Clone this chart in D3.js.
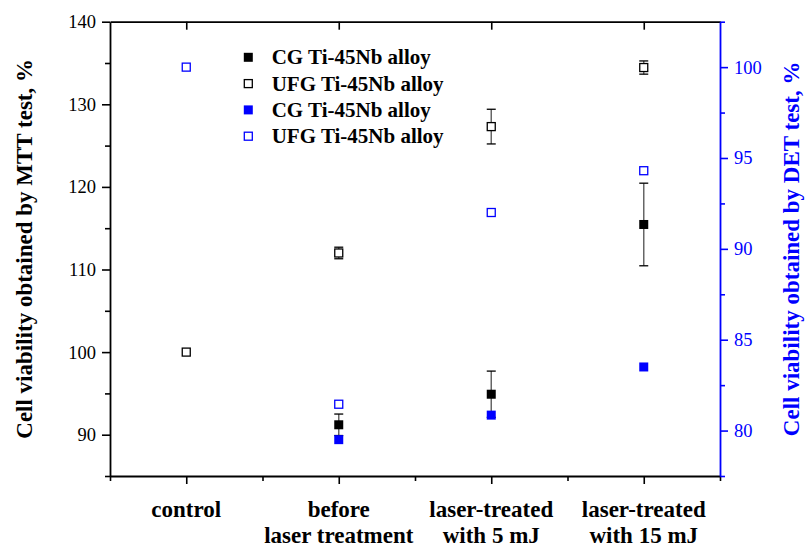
<!DOCTYPE html>
<html>
<head>
<meta charset="utf-8">
<script src="https://cdn.jsdelivr.net/npm/d3@7"></script>
<style>
  html, body { margin: 0; padding: 0; background: #fff; }
  svg { display: block; }
</style>
</head>
<body>
<div id="chart"></div>
<script>
// categories along the x axis (two lines each)
const categories = [
  ["control"],
  ["before", "laser treatment"],
  ["laser-treated", "with 5 mJ"],
  ["laser-treated", "with 15 mJ"]
];

// MTT test (left axis), null = no point
const cgMTT = [null, 91.2, 94.9, 115.45];
const cgMTTErr = [null, 1.3, 2.8, 5.0];
const ufgMTT = [100, 112.0, 127.3, 134.45];
const ufgMTTErr = [0, 0.7, 2.1, 0.8];

// DET test (right axis)
const cgDET = [null, 79.5, 80.85, 83.5];
const ufgDET = [100, 81.45, 92.0, 94.3];

const leftTicks = [90, 100, 110, 120, 130, 140];
const rightTicks = [80, 85, 90, 95, 100];
const legendLabels = ["CG Ti-45Nb alloy", "UFG Ti-45Nb alloy", "CG Ti-45Nb alloy", "UFG Ti-45Nb alloy"];

const width = 806, height = 549;
const plotL = 110, plotR = 720, plotT = 21.7, plotB = 476;
const blue = "#0000ff";
const serif = "'Liberation Serif', 'Times New Roman', serif";

const svg = d3.select("#chart").append("svg")
  .attr("width", width)
  .attr("height", height)
  .style("font-family", serif);

// scales
const x = d3.scaleLinear().domain([0.5, 4.5]).range([plotL, plotR]);
const yL = d3.scaleLinear().domain([85, 140]).range([plotB, plotT]);
const yR = d3.scaleLinear().domain([77.5, 102.5]).range([plotB, plotT]);

const idx = d3.range(1, categories.length + 1);

// minor ticks first, then major axes on top
svg.append("g")
  .attr("transform", `translate(0,${plotB})`)
  .call(d3.axisBottom(x).tickValues(d3.range(0.5, 4.6, 1)).tickSize(5).tickFormat(""))
  .call(g => g.select(".domain").remove())
  .call(g => g.selectAll("line").attr("stroke", "#000").attr("stroke-width", 1.6));

svg.append("g")
  .attr("transform", `translate(${plotL},0)`)
  .call(d3.axisLeft(yL).tickValues(d3.range(85, 140, 10)).tickSize(5).tickFormat(""))
  .call(g => g.select(".domain").remove())
  .call(g => g.selectAll("line").attr("stroke", "#000").attr("stroke-width", 1.6));

svg.append("g")
  .attr("transform", `translate(${plotR},0)`)
  .call(d3.axisRight(yR).tickValues(d3.range(77.5, 103, 5)).tickSize(5).tickFormat(""))
  .call(g => g.select(".domain").remove())
  .call(g => g.selectAll("line").attr("stroke", blue).attr("stroke-width", 1.6));

// top frame with inward ticks
svg.append("g")
  .attr("transform", `translate(0,${plotT})`)
  .call(d3.axisBottom(x).tickValues(idx).tickSizeInner(8).tickSizeOuter(0).tickFormat(""))
  .call(g => g.select(".domain").attr("stroke", "#000").attr("stroke-width", 1.8))
  .call(g => g.selectAll("line").attr("stroke", "#000").attr("stroke-width", 1.6));

// bottom axis
const xAxis = svg.append("g")
  .attr("transform", `translate(0,${plotB})`)
  .call(d3.axisBottom(x).tickValues(idx).tickSizeInner(8).tickSizeOuter(0).tickFormat(""));
xAxis.select(".domain").attr("stroke", "#000").attr("stroke-width", 1.8);
xAxis.selectAll("line").attr("stroke", "#000").attr("stroke-width", 1.6);

// category labels
const catText = svg.append("g").selectAll("text")
  .data(categories)
  .join("text")
  .attr("x", (d, i) => x(i + 1))
  .attr("y", 517)
  .attr("text-anchor", "middle")
  .attr("font-size", "23px")
  .attr("font-weight", "bold")
  .attr("fill", "#000");
catText.selectAll("tspan")
  .data(d => d)
  .join("tspan")
  .attr("x", function() { return this.parentNode.getAttribute("x"); })
  .attr("dy", (d, i) => i === 0 ? 0 : 26)
  .text(d => d);

// left axis
const yAxisL = svg.append("g")
  .attr("transform", `translate(${plotL},0)`)
  .call(d3.axisLeft(yL).tickValues(leftTicks).tickSizeInner(8).tickSizeOuter(0).tickPadding(6));
yAxisL.select(".domain").attr("stroke", "#000").attr("stroke-width", 1.8);
yAxisL.selectAll("line").attr("stroke", "#000").attr("stroke-width", 1.6);
yAxisL.selectAll("text")
  .attr("font-family", serif)
  .attr("font-size", "18.5px")
  .attr("fill", "#000");

// right axis
const yAxisR = svg.append("g")
  .attr("transform", `translate(${plotR},0)`)
  .call(d3.axisRight(yR).tickValues(rightTicks).tickSizeInner(8).tickSizeOuter(0).tickPadding(6));
yAxisR.select(".domain").attr("stroke", blue).attr("stroke-width", 1.8);
yAxisR.selectAll("line").attr("stroke", blue).attr("stroke-width", 1.6);
yAxisR.selectAll("text")
  .attr("font-family", serif)
  .attr("font-size", "18.5px")
  .attr("fill", blue);

// axis titles
svg.append("text")
  .attr("transform", `translate(32,${(plotT + plotB) / 2}) rotate(-90)`)
  .attr("text-anchor", "middle")
  .attr("font-size", "23px")
  .attr("font-weight", "bold")
  .attr("fill", "#000")
  .text("Cell viability obtained by MTT test, %");

svg.append("text")
  .attr("transform", `translate(799,${(plotT + plotB) / 2}) rotate(-90)`)
  .attr("text-anchor", "middle")
  .attr("font-size", "23px")
  .attr("font-weight", "bold")
  .attr("fill", blue)
  .text("Cell viability obtained by DET test, %");

// error bars
function errorBars(values, errs, scale) {
  const pts = values.map((v, i) => ({ i: i + 1, v, e: errs[i] }))
    .filter(d => d.v != null && d.e > 0);
  const g = svg.append("g");
  g.selectAll("line.stem")
    .data(pts)
    .join("line")
    .attr("class", "stem")
    .attr("x1", d => x(d.i)).attr("x2", d => x(d.i))
    .attr("y1", d => scale(d.v + d.e)).attr("y2", d => scale(d.v - d.e))
    .attr("stroke", "#666").attr("stroke-width", 1.5);
  ["t", "b"].forEach(s => {
    g.selectAll("line.cap" + s)
      .data(pts)
      .join("line")
      .attr("class", "cap" + s)
      .attr("x1", d => x(d.i) - 4.5).attr("x2", d => x(d.i) + 4.5)
      .attr("y1", d => scale(s === "t" ? d.v + d.e : d.v - d.e))
      .attr("y2", d => scale(s === "t" ? d.v + d.e : d.v - d.e))
      .attr("stroke", "#000").attr("stroke-width", 1.3);
  });
}

function squares(values, scale, color, filled) {
  const pts = values.map((v, i) => ({ i: i + 1, v })).filter(d => d.v != null);
  const s = filled ? 9 : 8;
  svg.append("g").selectAll("rect")
    .data(pts)
    .join("rect")
    .attr("x", d => x(d.i) - s / 2)
    .attr("y", d => scale(d.v) - s / 2)
    .attr("width", s)
    .attr("height", s)
    .attr("fill", filled ? color : "#fff")
    .attr("stroke", filled ? "none" : color)
    .attr("stroke-width", 1.3);
}

errorBars(ufgMTT, ufgMTTErr, yL);
errorBars(cgMTT, cgMTTErr, yL);
squares(ufgMTT, yL, "#000", false);
squares(cgMTT, yL, "#000", true);
squares(ufgDET, yR, blue, false);
squares(cgDET, yR, blue, true);

// legend
const legendRows = [
  { color: "#000", filled: true },
  { color: "#000", filled: false },
  { color: blue, filled: true },
  { color: blue, filled: false }
];
const legend = svg.append("g");
legendRows.forEach((r, i) => {
  const cy = 57.3 + i * 26.3;
  const s = r.filled ? 9 : 8;
  legend.append("rect")
    .attr("x", 248.3 - s / 2).attr("y", cy - s / 2)
    .attr("width", s).attr("height", s)
    .attr("fill", r.filled ? r.color : "#fff")
    .attr("stroke", r.filled ? "none" : r.color)
    .attr("stroke-width", 1.3);
  legend.append("text")
    .attr("x", 271.7).attr("y", cy + 7)
    .attr("font-size", "21px")
    .attr("font-weight", "bold")
    .attr("fill", "#000")
    .text(legendLabels[i]);
});
</script>
</body>
</html>
